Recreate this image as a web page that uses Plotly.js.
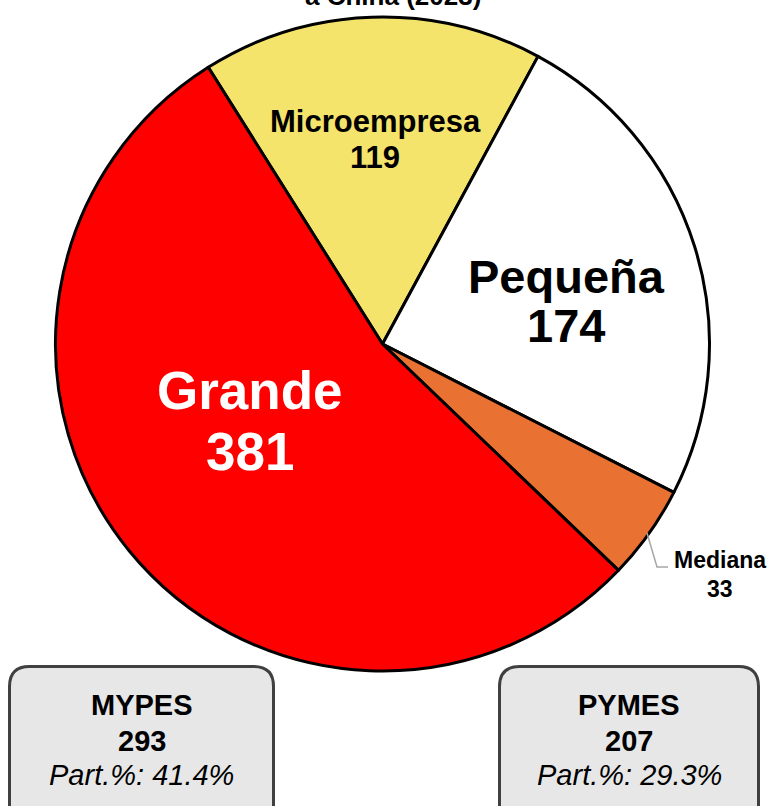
<!DOCTYPE html>
<html>
<head>
<meta charset="utf-8">
<script src="https://cdn.plot.ly/plotly-3.0.1.min.js"></script>
<style>
  html, body { margin: 0; padding: 0; background: #ffffff; }
  #chart { width: 770px; height: 806px; }
</style>
</head>
<body>
<div id="chart"></div>
<script>
// Chart data
const categories = ['Microempresa', 'Pequeña', 'Mediana', 'Grande'];
const values = [119, 174, 33, 381];
const titleText = 'a China (2023)';

// Groupings shown in the boxes
const groupNames = ['MYPES', 'PYMES'];
const groupMembers = [['Microempresa', 'Pequeña'], ['Pequeña', 'Mediana']];

// Styles
const sliceColors = ['#F5E46B', '#FFFFFF', '#E97132', '#FF0000'];
const labelColors = ['#000000', '#000000', '#000000', '#FFFFFF'];
const labelSizes = [31, 47, 23, 53];
const FONT = 'Liberation Sans, Arial, sans-serif';

const W = 770, H = 806;
const px = x => x / W;
const py = y => 1 - y / H;

// label anchor points (pixels): [x, y of name line, y of value line]
const labelPos = [
    [375, 121, 157],
    [566, 276, 325],
    [720, 560, 589],
    [250, 390, 452]
];

const total = values.reduce((a, b) => a + b, 0);

function roundRect(x0, y0, x1, y1, r) {
    return 'M ' + px(x0 + r) + ',' + py(y0) +
        ' L ' + px(x1 - r) + ',' + py(y0) +
        ' Q ' + px(x1) + ',' + py(y0) + ' ' + px(x1) + ',' + py(y0 + r) +
        ' L ' + px(x1) + ',' + py(y1 - r) +
        ' Q ' + px(x1) + ',' + py(y1) + ' ' + px(x1 - r) + ',' + py(y1) +
        ' L ' + px(x0 + r) + ',' + py(y1) +
        ' Q ' + px(x0) + ',' + py(y1) + ' ' + px(x0) + ',' + py(y1 - r) +
        ' L ' + px(x0) + ',' + py(y0 + r) +
        ' Q ' + px(x0) + ',' + py(y0) + ' ' + px(x0 + r) + ',' + py(y0) + ' Z';
}

const trace = {
    type: 'pie',
    labels: categories,
    values: values,
    sort: false,
    direction: 'clockwise',
    rotation: -32.2,
    textinfo: 'none',
    hoverinfo: 'label+value',
    marker: {
        colors: sliceColors,
        line: { color: '#000000', width: 3 }
    },
    domain: { x: [px(55.5), px(709.5)], y: [py(671), py(17)] },
    showlegend: false
};

const annotations = [];

// title (only the last line is visible in the frame)
annotations.push({
    xref: 'paper', yref: 'paper', x: px(393), y: py(-4),
    xanchor: 'center', yanchor: 'middle', showarrow: false,
    text: '<b>' + titleText + '</b>',
    font: { family: FONT, size: 26, color: '#000000' }
});

// slice labels
categories.forEach((c, i) => {
    const p = labelPos[i];
    [c, String(values[i])].forEach((t, k) => {
        annotations.push({
            xref: 'paper', yref: 'paper', x: px(p[0]), y: py(p[k + 1]),
            xanchor: 'center', yanchor: 'middle', showarrow: false,
            text: '<b>' + t + '</b>',
            font: { family: FONT, size: labelSizes[i], color: labelColors[i] }
        });
    });
});

// group boxes
const boxes = [[8, 665, 275], [498, 665, 760]];
const shapes = [];
groupNames.forEach((g, i) => {
    const sum = groupMembers[i].reduce((a, m) => a + values[categories.indexOf(m)], 0);
    const pct = (sum / total * 100).toFixed(1);
    const b = boxes[i];
    const cx = (b[0] + b[2]) / 2;
    shapes.push({
        type: 'path', xref: 'paper', yref: 'paper',
        path: roundRect(b[0] + 1.5, b[1] + 1.5, b[2] - 1.5, 830, 20),
        fillcolor: '#E7E7E7',
        line: { color: '#404040', width: 3 }
    });
    const lines = [
        ['<b>' + g + '</b>', 705],
        ['<b>' + sum + '</b>', 741],
        ['<i>Part.%: ' + pct + '%</i>', 775]
    ];
    lines.forEach(l => {
        annotations.push({
            xref: 'paper', yref: 'paper', x: px(cx), y: py(l[1]),
            xanchor: 'center', yanchor: 'middle', showarrow: false,
            text: l[0],
            font: { family: FONT, size: 29, color: '#000000' }
        });
    });
});

// leader line for Mediana
shapes.push({
    type: 'path', xref: 'paper', yref: 'paper',
    path: 'M ' + px(647) + ',' + py(533) + ' L ' + px(657) + ',' + py(567) + ' L ' + px(668) + ',' + py(567),
    line: { color: '#A6A6A6', width: 1.5 }
});

const layout = {
    width: W,
    height: H,
    margin: { t: 0, b: 0, l: 0, r: 0 },
    paper_bgcolor: '#ffffff',
    plot_bgcolor: '#ffffff',
    font: { family: FONT },
    annotations: annotations,
    shapes: shapes
};

Plotly.newPlot('chart', [trace], layout, { displayModeBar: false, staticPlot: true });
</script>
</body>
</html>
